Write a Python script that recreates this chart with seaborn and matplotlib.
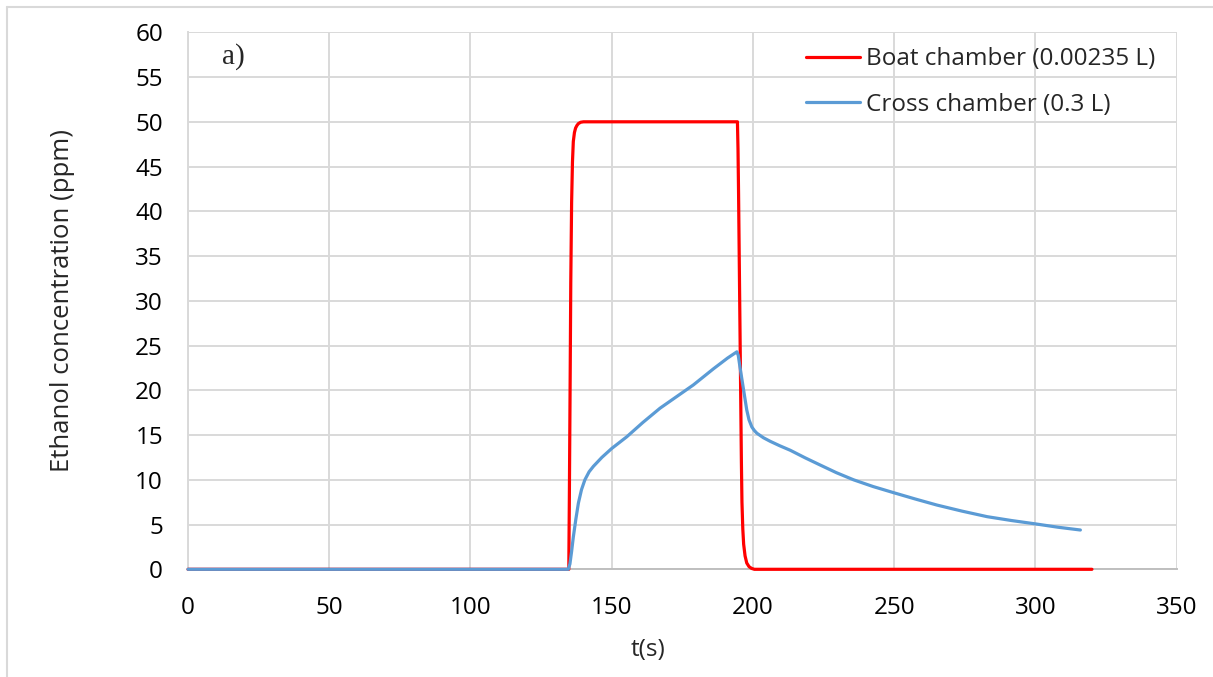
import matplotlib
matplotlib.use("Agg")
import matplotlib.pyplot as plt
from matplotlib.lines import Line2D
import seaborn as sns
import numpy as np

# Boat chamber (0.00235 L)
t_boat = [0, 134.8, 135.0, 135.3, 135.5, 135.8, 136.1, 136.4, 136.8, 137.2, 137.7, 138.2, 139.0, 140.0,
          194.5, 194.7, 194.9, 195.1, 195.3, 195.5, 195.7, 195.9, 196.1, 196.4, 196.7, 197.2, 197.8, 198.6, 199.5, 200.5, 320]
c_boat = [0, 0, 8, 22, 32, 41, 45.5, 47.8, 48.8, 49.3, 49.6, 49.8, 49.95, 50,
          50, 47, 42, 36, 30, 24, 18, 12, 7.5, 4.5, 2.8, 1.5, 0.7, 0.3, 0.1, 0, 0]

# Cross chamber (0.3 L)
t_cross = [0, 134.6, 135.2, 135.8, 136.4, 137.3, 138.2, 139.3, 140.5, 142.0, 143.5, 146.5, 150, 155.3, 161, 167.1, 173,
           178.9, 186, 191, 194.3, 194.8, 195.4, 196.1, 197.0, 197.8, 198.6, 199.6, 200.5, 201.4, 203.7, 206.1, 209.5,
           213.2, 218.5, 223.8, 229.5, 235.6, 242.5, 249.8, 257.5, 265.1, 274, 282.9, 291.5, 300.3, 308, 315.9]
c_cross = [0, 0, 0.6, 2.0, 3.6, 5.6, 7.4, 8.9, 10.0, 10.9, 11.5, 12.5, 13.5, 14.8, 16.4, 18.0, 19.3,
           20.6, 22.4, 23.6, 24.3, 23.9, 22.6, 21.2, 19.4, 17.8, 16.7, 15.9, 15.5, 15.2, 14.7, 14.3, 13.8,
           13.3, 12.45, 11.65, 10.8, 10.0, 9.25, 8.56, 7.85, 7.18, 6.5, 5.88, 5.45, 5.06, 4.7, 4.39]

labels = ["Boat chamber (0.00235 L)", "Cross chamber (0.3 L)"]
x_ticks = [0, 50, 100, 150, 200, 250, 300, 350]
y_ticks = [0, 5, 10, 15, 20, 25, 30, 35, 40, 45, 50, 55, 60]

sns.set_theme(style="white")
plt.rcParams['font.family'] = ['Open Sans', 'DejaVu Sans']

fig = plt.figure(figsize=(12.13, 6.77), dpi=100)
ax = fig.add_axes([188 / 1213, 1 - 569.3 / 677, (1176.7 - 188) / 1213, (569.3 - 32.3) / 677])

grid_c = "#d9d9d9"
fs = 17.5
sns.lineplot(x=t_boat, y=c_boat, ax=ax, color="#ff0000", lw=2.3, label=labels[0], estimator=None, sort=False,
             zorder=3, clip_on=False)
sns.lineplot(x=t_cross, y=c_cross, ax=ax, color="#5b9bd5", lw=2.3, label=labels[1], estimator=None, sort=False,
             zorder=4, clip_on=False)

ax.set_xlim(0, 350)
ax.set_ylim(0, 60)
ax.set_xticks(x_ticks)
ax.set_yticks(y_ticks)
ax.grid(True, color=grid_c, lw=1.4)
ax.set_axisbelow(True)
for s in ["top", "right"]:
    ax.spines[s].set_visible(False)
ax.spines["left"].set_color(grid_c)
ax.spines["left"].set_linewidth(1.4)
ax.spines["bottom"].set_color("#bfbfbf")
ax.spines["bottom"].set_linewidth(1.4)
ax.tick_params(axis="both", length=0, labelsize=fs, colors="black")
ax.tick_params(axis="x", pad=19)
ax.tick_params(axis="y", pad=18)

ax.set_xlabel("t(s)", fontsize=fs)
ax.xaxis.set_label_coords((648 - 188) / 988, -0.128)
ax.set_ylabel("Ethanol concentration (ppm)", fontsize=18.5)
ax.yaxis.set_label_coords((75 - 188) / 988, 0.5)

ax.text(0.034, 0.954, "a)", transform=ax.transAxes, fontsize=21, family="Liberation Serif",
        va="center", ha="left")

leg = ax.legend(loc="upper left", bbox_to_anchor=((806 - 188) / 988, 0.972), frameon=False, fontsize=fs,
                handlelength=2.2, handletextpad=0.25, labelspacing=0.88, borderaxespad=0, borderpad=0)

fig.add_artist(Line2D([7 / 1213, 7 / 1213], [0, 1 - 7 / 677], color=grid_c, lw=1.5, transform=fig.transFigure))
fig.add_artist(Line2D([7 / 1213, 1], [1 - 7 / 677, 1 - 7 / 677], color=grid_c, lw=1.5, transform=fig.transFigure))

fig.savefig("out.png", dpi=100)
